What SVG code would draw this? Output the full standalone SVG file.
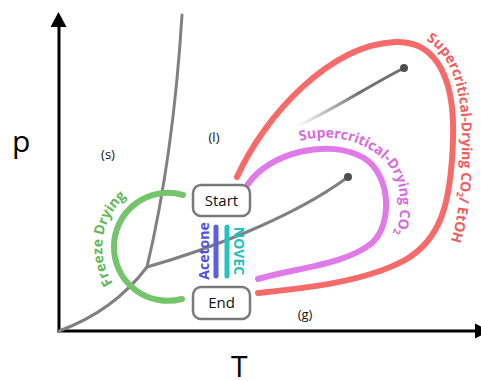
<svg xmlns="http://www.w3.org/2000/svg" width="481" height="381" viewBox="0 0 481 381">
<defs>
<style>
.axis{stroke:#000;stroke-width:3;fill:none}
.phase{stroke:#808080;stroke-width:3;fill:none;stroke-linecap:round}
.box{fill:#fff;stroke:#7a7a7a;stroke-width:2.5}
.boxt{font-family:"Open Sans","Liberation Sans",sans-serif;font-size:15px;fill:#111;text-anchor:middle}
.reg{font-family:"Open Sans","Liberation Sans",sans-serif;font-size:13px;fill:#111;text-anchor:middle}
.big{font-family:"Open Sans","Liberation Sans",sans-serif;font-size:30px;fill:#000}
.lbl{font-family:"Open Sans","Liberation Sans",sans-serif;font-size:14px;font-weight:700}
</style>
<linearGradient id="fade" gradientUnits="userSpaceOnUse" x1="295" y1="127" x2="360" y2="95">
<stop offset="0" stop-color="#808080" stop-opacity="0"/>
<stop offset="1" stop-color="#707070" stop-opacity="1"/>
</linearGradient>
<path id="fzPath" d="M113,283 A65,65 0 0 1 130,194"/>
<path id="pkPath" d="M300,141 C335,131 377,144 393,172 C406,196 402,232 382,262"/>
<path id="rdPath" d="M426,40 C452,55 462,90 462,140 C462,185 459,215 451,240"/>
</defs>

<g id="axes">
<line class="axis" x1="59" y1="332" x2="59" y2="24"/>
<polygon points="58.5,12 50.5,27 66.5,27" fill="#000"/>
<line class="axis" x1="57.5" y1="331" x2="476" y2="331"/>
<polygon points="490,331 475,323.5 475,338.5" fill="#000"/>
<text class="big" x="12" y="152">p</text>
<text class="big" x="231" y="377">T</text>
</g>

<g id="phase-lines">
<path class="phase" d="M182,15 C178,80 170,170 147,267"/>
<path class="phase" d="M59,331 C95,318 125,296 147,267"/>
<path class="phase" d="M147,267 C200,252 290,220 348,177"/>
<circle cx="348" cy="177" r="4" fill="#505050"/>
<path d="M295,127 C330,112 370,85 404,68" stroke="url(#fade)" stroke-width="3" fill="none"/>
<circle cx="404" cy="68" r="4" fill="#505050"/>
</g>

<g id="regions">
<text class="reg" x="108" y="159">(s)</text>
<text class="reg" x="214" y="142">(l)</text>
<text class="reg" x="305" y="319">(g)</text>
</g>

<g id="freeze-drying">
<path d="M183,195 A54,54 0 1 0 182,299" stroke="#74c46c" stroke-width="6" fill="none" stroke-linecap="round"/>
<text class="lbl" fill="#62b85a" font-size="13.5"><textPath href="#fzPath">Freeze Drying</textPath></text>
</g>

<g id="sc-co2">
<path d="M248,184 C270,152 330,138 364,158 C392,176 392,225 372,243 C345,265 295,268 258,279" stroke="#e07ae8" stroke-width="6" fill="none" stroke-linecap="round"/>
<text class="lbl" fill="#d96ae0" font-size="15"><textPath href="#pkPath">Supercritical-Drying CO<tspan dy="3" font-size="10">2</tspan></textPath></text>
</g>

<g id="sc-co2-etoh">
<path d="M237,177 C265,115 330,45 395,42 C440,40 455,85 453,140 C451,205 440,240 405,260 C365,282 305,288 258,293" stroke="#f76a6a" stroke-width="6" fill="none" stroke-linecap="round"/>
<text class="lbl" fill="#f25c5c" font-size="13"><textPath href="#rdPath">Supercritical-Drying CO<tspan dy="3" font-size="9">2</tspan><tspan dy="-3">/ EtOH</tspan></textPath></text>
</g>

<g id="start">
<rect class="box" x="193" y="185" width="57" height="31" rx="8"/>
<text class="boxt" x="221.5" y="206">Start</text>
</g>

<g id="end">
<rect class="box" x="193" y="287" width="57" height="32" rx="8"/>
<text class="boxt" x="221.5" y="308">End</text>
</g>

<g id="acetone">
<line x1="216" y1="227" x2="216" y2="276" stroke="#5b5fe0" stroke-width="5" stroke-linecap="round"/>
<text class="lbl" fill="#4f53e0" transform="translate(209,251) rotate(-90)" text-anchor="middle">Acetone</text>
</g>

<g id="novec">
<line x1="227" y1="227" x2="227" y2="276" stroke="#22c4c4" stroke-width="5" stroke-linecap="round"/>
<text class="lbl" fill="#1fc1c1" transform="translate(234,251) rotate(90)" text-anchor="middle">NOVEC</text>
</g>
</svg>
